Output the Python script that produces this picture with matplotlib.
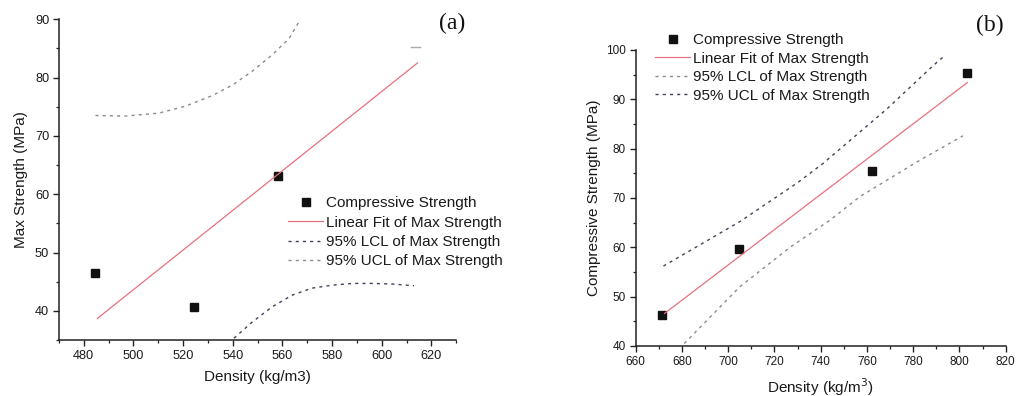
import numpy as np
import matplotlib
matplotlib.use("Agg")
import matplotlib.pyplot as plt
from matplotlib.ticker import MultipleLocator

plt.rcParams['font.family'] = ['Liberation Sans', 'DejaVu Sans']

# panel (a) values
dens_a = [484.7, 524.4, 558.2]
str_a = [46.5, 40.6, 63.2]
fit_a_x = [485.5, 614.4]
fit_a_y = [38.7, 82.5]
ucl_a_x = [484.7, 496.8, 510.2, 521.0, 531.7, 539.8, 547.9, 555.9, 562.7, 566.7]
ucl_a_y = [73.5, 73.4, 73.9, 75.1, 76.9, 78.7, 81.1, 83.9, 86.7, 89.6]
lcl_a_x = [540.5, 547.9, 555.9, 564.0, 572.0, 580.0, 588.2, 596.2, 604.3, 613.0]
lcl_a_y = [35.3, 38.1, 40.7, 42.7, 43.9, 44.4, 44.7, 44.7, 44.6, 44.3]
tail_a_x = [612.0, 615.5]
tail_a_y = [85.3, 85.3]

# panel (b) values
dens_b = [671.5, 704.7, 762.2, 803.4]
str_b = [46.3, 59.7, 75.4, 95.4]
fit_b_x = [672.5, 803.4]
fit_b_y = [46.6, 93.4]
ucl_b_x = [672.0, 705.0, 730.0, 741.0, 768.5, 789.0, 793.0]
ucl_b_y = [56.2, 65.2, 73.1, 77.0, 88.0, 97.0, 98.6]
lcl_b_x = [681.0, 705.0, 727.0, 744.0, 757.0, 783.0, 801.5]
lcl_b_y = [40.5, 52.0, 60.1, 65.5, 70.3, 77.7, 82.6]

labels = ['Compressive Strength', 'Linear Fit of Max Strength',
          '95% LCL of Max Strength', '95% UCL of Max Strength']

red = '#e8707e'
dark = '#404258'
light = '#8a8a90'
dots = (0, (2.2, 3.0))
txt = '#1a1a1a'

fig = plt.figure(figsize=(10.16, 3.96), dpi=100)


def style(ax):
    for s in ['top', 'right']:
        ax.spines[s].set_visible(False)
    for s in ['left', 'bottom']:
        ax.spines[s].set_color('#222222')
        ax.spines[s].set_linewidth(1.1)
    ax.tick_params(which='major', direction='out', length=4, width=1.0,
                   labelsize=9.2, colors='#222222', labelcolor=txt, pad=3)
    ax.tick_params(which='minor', direction='out', length=2.5, width=0.9,
                   colors='#222222')


ax1 = fig.add_axes([0.058, 0.1414, 0.391, 0.81])
ax1.plot(dens_a, str_a, 's', color='#111111', markersize=5.5, label=labels[0])
ax1.plot(fit_a_x, fit_a_y, '-', color=red, lw=0.9, label=labels[1])
ax1.plot(lcl_a_x, lcl_a_y, color=dark, lw=1.0, linestyle=dots, label=labels[2])
ax1.plot(ucl_a_x, ucl_a_y, color=light, lw=1.0, linestyle=dots, label=labels[3])
ax1.plot(tail_a_x, tail_a_y, color='#aaaaaa', lw=1.0)
ax1.set_xlim(470, 630)
ax1.set_ylim(35, 90)
ax1.xaxis.set_major_locator(MultipleLocator(20))
ax1.xaxis.set_minor_locator(MultipleLocator(10))
ax1.yaxis.set_major_locator(MultipleLocator(10))
ax1.yaxis.set_minor_locator(MultipleLocator(5))
ax1.set_yticks([40, 50, 60, 70, 80, 90])
style(ax1)
ax1.set_xlabel('Density (kg/m3)', fontsize=11, color=txt, labelpad=6)
ax1.set_ylabel('Max Strength (MPa)', fontsize=11, color=txt, labelpad=5)
ax1.legend(loc='upper left', bbox_to_anchor=(288 / 1016, 1 - 196 / 396),
           bbox_transform=fig.transFigure, frameon=False, fontsize=11,
           handlelength=2.3, handletextpad=0.2, labelspacing=0.36,
           borderpad=0, borderaxespad=0, labelcolor=txt)
fig.text(452 / 1016, 1 - 23 / 396, '(a)', family='Liberation Serif', fontsize=17,
         ha='center', va='center', color='#111111')

ax2 = fig.add_axes([0.6257, 0.1263, 0.3642, 0.7475])
ax2.plot(dens_b, str_b, 's', color='#111111', markersize=5.5, label=labels[0])
ax2.plot(fit_b_x, fit_b_y, '-', color=red, lw=0.9, label=labels[1])
ax2.plot(lcl_b_x, lcl_b_y, color=light, lw=1.0, linestyle=dots, label=labels[2])
ax2.plot(ucl_b_x, ucl_b_y, color=dark, lw=1.0, linestyle=dots, label=labels[3])
ax2.set_xlim(660, 820)
ax2.set_ylim(40, 100)
ax2.xaxis.set_major_locator(MultipleLocator(20))
ax2.xaxis.set_minor_locator(MultipleLocator(10))
ax2.yaxis.set_major_locator(MultipleLocator(10))
ax2.yaxis.set_minor_locator(MultipleLocator(5))
style(ax2)
ax2.tick_params(which='major', labelsize=8.5)
ax2.set_xlabel('Density (kg/m$^3$)', fontsize=11, color=txt, labelpad=6)
ax2.set_ylabel('Compressive Strength (MPa)', fontsize=11, color=txt, labelpad=4)
ax2.legend(loc='upper left', bbox_to_anchor=(655 / 1016, 1 - 33 / 396),
           bbox_transform=fig.transFigure, frameon=False, fontsize=11,
           handlelength=2.3, handletextpad=0.2, labelspacing=0.3,
           borderpad=0, borderaxespad=0, labelcolor=txt)
fig.text(990 / 1016, 1 - 25 / 396, '(b)', family='Liberation Serif', fontsize=17,
         ha='center', va='center', color='#111111')

fig.savefig('out.png', dpi=100)
